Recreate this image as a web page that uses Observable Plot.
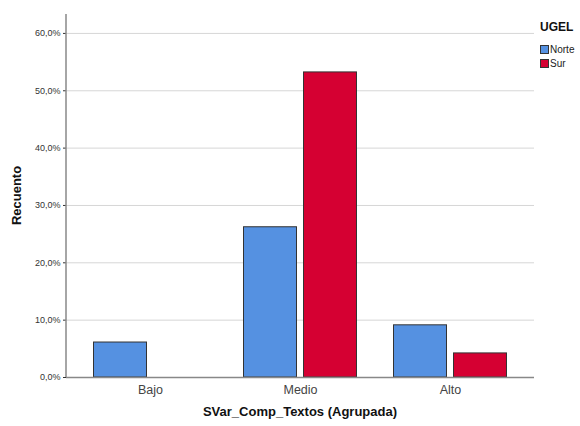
<!DOCTYPE html>
<html>
<head>
<meta charset="utf-8">
<script src="https://cdn.jsdelivr.net/npm/d3@7"></script>
<script src="https://cdn.jsdelivr.net/npm/@observablehq/plot@0.6"></script>
<style>
  html, body { margin: 0; padding: 0; background: #fff; }
  #wrap { position: relative; width: 580px; height: 426px; font-family: Arial, "Liberation Sans", sans-serif; }
  #legend { position: absolute; left: 540px; top: 20px; color: #111; }
  #legend .t { font-weight: bold; font-size: 12px; margin-bottom: 8px; }
  #legend .row { display: flex; align-items: center; font-size: 10px; height: 14px; color: #222; }
  #legend .sw { width: 9px; height: 9px; border: 1px solid #333; margin-right: 1px; box-sizing: border-box; }
</style>
</head>
<body>
<div id="wrap"></div>
<script>
const categories = ["Bajo", "Medio", "Alto"];
const series = ["Norte", "Sur"];
const norte = [0.061, 0.262, 0.091];
const sur = [0.0, 0.532, 0.042];
const yTicks = [0, 0.1, 0.2, 0.3, 0.4, 0.5, 0.6];
const colors = ["#5591e1", "#d50032"];

const dataNorte = categories.map((c, i) => ({cat: c, ugel: "Norte", v: norte[i]}));
const dataSur = categories.map((c, i) => ({cat: c, ugel: "Sur", v: sur[i]}));

const fmt = v => (v * 100).toFixed(1).replace(".", ",") + "%";

const chart = Plot.plot({
  width: 580,
  height: 426,
  marginLeft: 66,
  marginRight: 46,
  marginTop: 14,
  marginBottom: 49,
  style: {fontFamily: "Arial, 'Liberation Sans', sans-serif", background: "#fff"},
  x: {domain: categories, paddingInner: 0, paddingOuter: 0.05, label: null, axis: null},
  y: {domain: [0, 0.633], axis: null},
  color: {domain: series, range: colors},
  marks: [
    Plot.ruleY(yTicks.filter(d => d > 0), {stroke: "#d6d6d6", strokeWidth: 1}),
    Plot.barY(dataNorte, {x: "cat", y: "v", fill: "ugel", stroke: "#333", strokeWidth: 1, insetLeft: 18.5, insetRight: 78.5}),
    Plot.barY(dataSur, {x: "cat", y: "v", fill: "ugel", stroke: "#333", strokeWidth: 1, insetLeft: 78.5, insetRight: 18.5}),
    Plot.ruleY([0], {stroke: "#888", strokeWidth: 1.5}),
    Plot.axisY({ticks: yTicks, tickFormat: fmt, tickSize: 3, tickPadding: 3, fontSize: 9, color: "#333", label: null, anchor: "left"}),
    Plot.axisX({tickSize: 0, tickPadding: 8, fontSize: 12.5, color: "#444", label: null, anchor: "bottom"})
  ]
});

const wrap = document.getElementById("wrap");
wrap.appendChild(chart);

// left axis line drawn via D3 using the plot's own y scale
const ys = chart.scale("y");
const svg = d3.select(chart);
svg.append("line")
  .attr("x1", 66).attr("x2", 66)
  .attr("y1", ys.apply(0.633)).attr("y2", ys.apply(0))
  .attr("stroke", "#888").attr("stroke-width", 1.5);

svg.append("text")
  .attr("transform", `translate(21,${(ys.apply(0.633) + ys.apply(0)) / 2}) rotate(-90)`)
  .attr("text-anchor", "middle")
  .attr("font-weight", "bold").attr("font-size", 13).attr("fill", "#111")
  .text("Recuento");

svg.append("text")
  .attr("x", 300).attr("y", 416)
  .attr("text-anchor", "middle")
  .attr("font-weight", "bold").attr("font-size", 13).attr("fill", "#111")
  .text("SVar_Comp_Textos (Agrupada)");

const legend = document.createElement("div");
legend.id = "legend";
legend.innerHTML = `<div class="t">UGEL</div>` + series.map((s, i) =>
  `<div class="row"><span class="sw" style="background:${colors[i]}"></span>${s}</div>`).join("");
wrap.appendChild(legend);
</script>
</body>
</html>
